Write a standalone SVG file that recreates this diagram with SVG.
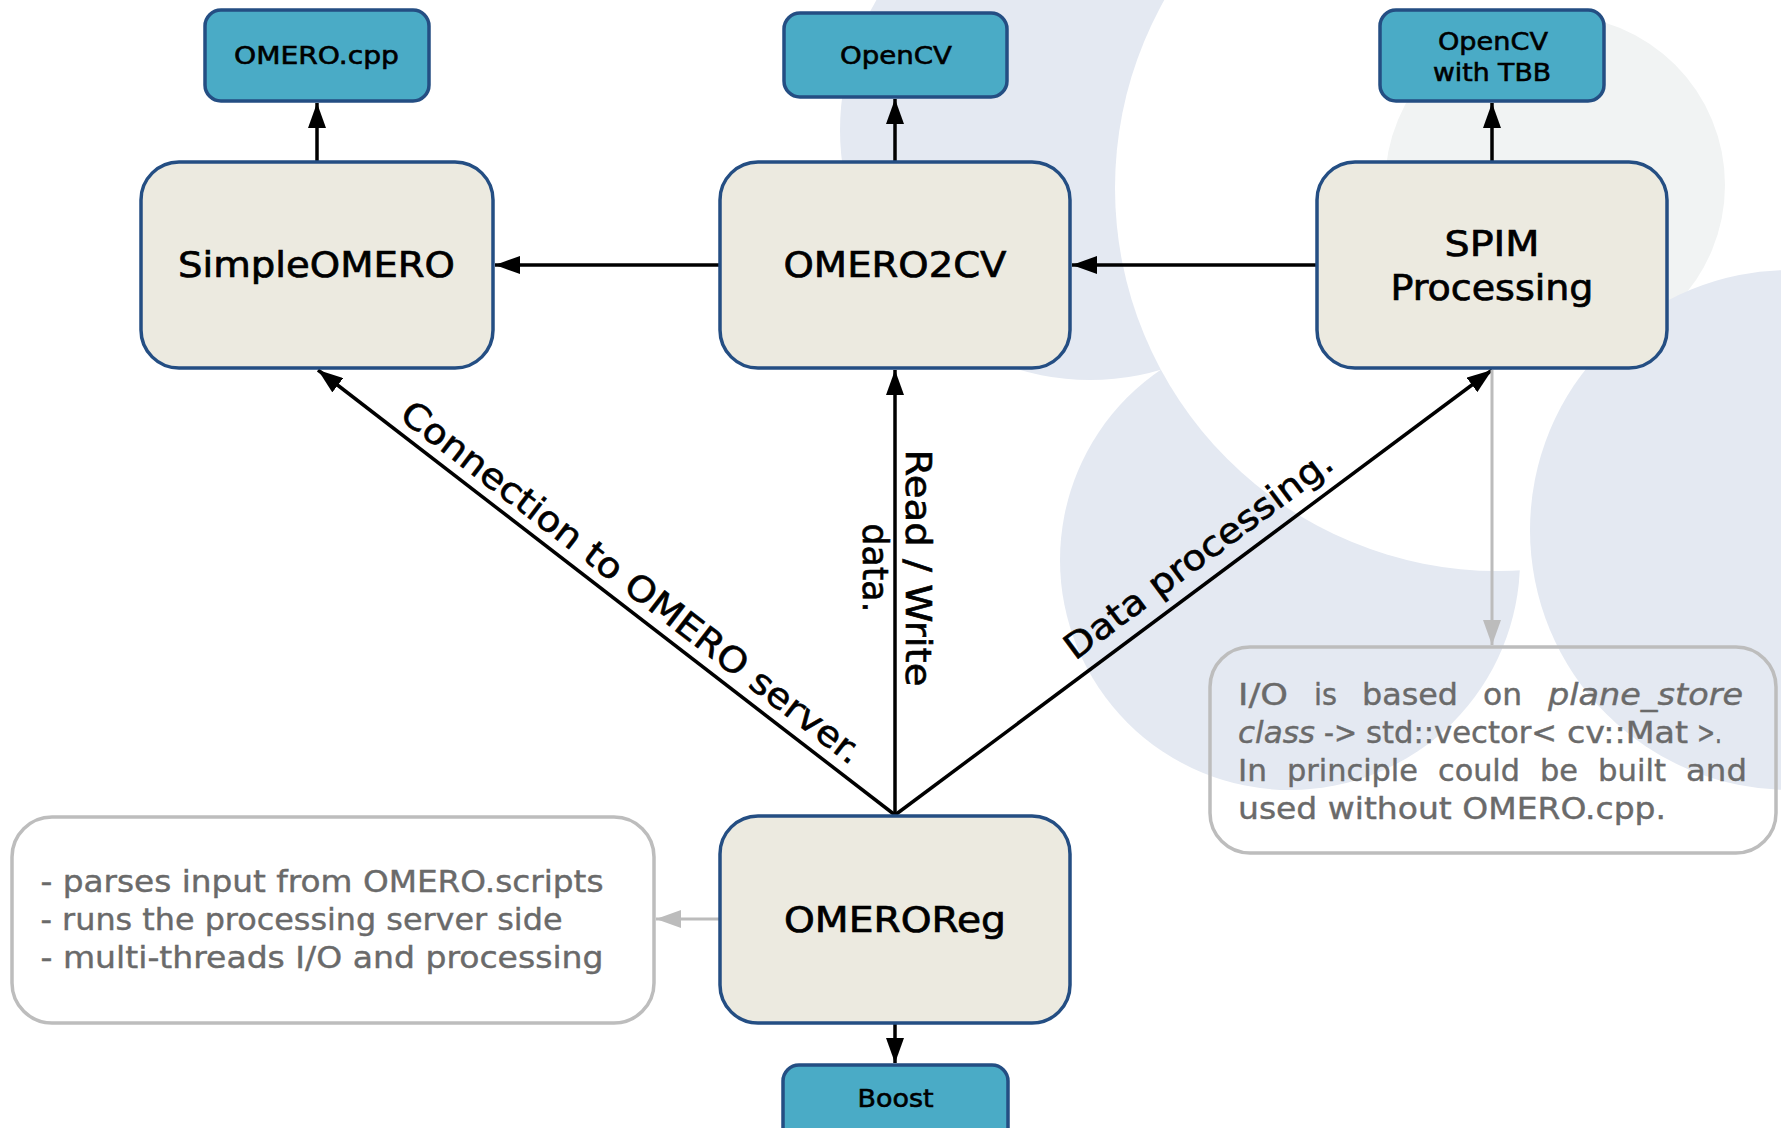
<svg xmlns="http://www.w3.org/2000/svg" width="1781" height="1128" viewBox="0 0 1781 1128">
  <style>
    .node rect { fill: #eceae0; stroke: #244e83; stroke-width: 3.5; }
    .lib rect { fill: #4aabc6; stroke: #244e83; stroke-width: 3.5; }
    .note rect { fill: none; stroke: #bdbdbd; stroke-width: 3.5; }
    text { font-family: "DejaVu Sans", "Liberation Sans", sans-serif; }
    .big { font-size: 35px; fill: #000; stroke: #000; stroke-width: 0.7px; text-anchor: middle; }
    .small { font-size: 25px; fill: #000; stroke: #000; stroke-width: 0.6px; text-anchor: middle; }
    .lbl { font-size: 35px; fill: #000; stroke: #000; stroke-width: 0.6px; }
    .notetxt { font-size: 30px; fill: #6a6a6a; stroke: #6a6a6a; stroke-width: 0.4px; }
    .it { font-style: italic; }
    .edge { stroke: #000; stroke-width: 3.5; fill: none; marker-end: url(#ah); }
    .gedge { stroke: #bcbcbc; stroke-width: 3; fill: none; marker-end: url(#ahg); }
    .bgb { fill: #e4e9f2; }
    .bgg { fill: #f1f3f3; }
  </style>
  <defs>
    <marker id="ah" viewBox="0 0 25 18" refX="25" refY="9" markerWidth="25" markerHeight="18" markerUnits="userSpaceOnUse" orient="auto">
      <path d="M0,0 L25,9 L0,18 z" fill="#000"/>
    </marker>
    <marker id="ahg" viewBox="0 0 25 18" refX="25" refY="9" markerWidth="25" markerHeight="18" markerUnits="userSpaceOnUse" orient="auto">
      <path d="M0,0 L25,9 L0,18 z" fill="#bcbcbc"/>
    </marker>
  </defs>
  <rect x="0" y="0" width="1781" height="1128" fill="#ffffff"/>
  <g id="background">
    <circle class="bgb" cx="1090" cy="130" r="250"/>
    <circle class="bgb" cx="1290" cy="560" r="230"/>
    <circle fill="#ffffff" cx="1498" cy="188" r="383"/>
    <circle class="bgg" cx="1555" cy="185" r="170"/>
    <circle class="bgb" cx="1790" cy="530" r="260"/>
  </g>
  <g id="connectors">
    <path class="edge" d="M317,162 L317,103"/>
    <path class="edge" d="M895,162 L895,99"/>
    <path class="edge" d="M1492,162 L1492,103"/>
    <path class="edge" d="M720,265 L495,265"/>
    <path class="edge" d="M1317,265 L1072,265"/>
    <path class="edge" d="M895,815 L318,370"/>
    <path class="edge" d="M895,815 L895,370"/>
    <path class="edge" d="M895,815 L1492,370"/>
    <path class="edge" d="M895,1023 L895,1063"/>
    <path class="gedge" d="M1492,370 L1492,645"/>
    <path class="gedge" d="M720,919 L656,919"/>
    <text class="lbl" transform="translate(398,418) rotate(37.52)" textLength="571" lengthAdjust="spacingAndGlyphs">Connection to OMERO server.</text>
    <text class="lbl" transform="translate(906,568) rotate(90)" text-anchor="middle"><tspan x="0" y="0" textLength="237" lengthAdjust="spacingAndGlyphs">Read / Write</tspan><tspan x="0" y="43" textLength="89" lengthAdjust="spacingAndGlyphs">data.</tspan></text>
    <text class="lbl" transform="translate(1075,661) rotate(-36.64)" textLength="325" lengthAdjust="spacingAndGlyphs">Data processing.</text>
  </g>
  <g id="node-omerocpp" class="lib">
    <rect x="205" y="10" width="224" height="91" rx="16"/>
    <text class="small" x="316.5" y="64" textLength="165" lengthAdjust="spacingAndGlyphs">OMERO.cpp</text>
  </g>
  <g id="node-opencv" class="lib">
    <rect x="784" y="13" width="223" height="84" rx="16"/>
    <text class="small" x="896" y="64" textLength="112" lengthAdjust="spacingAndGlyphs">OpenCV</text>
  </g>
  <g id="node-opencv-tbb" class="lib">
    <rect x="1380" y="10" width="224" height="91" rx="16"/>
    <text class="small" x="1493" y="49.5" textLength="110" lengthAdjust="spacingAndGlyphs">OpenCV</text>
    <text class="small" x="1492" y="80.5" textLength="118" lengthAdjust="spacingAndGlyphs">with TBB</text>
  </g>
  <g id="node-boost" class="lib">
    <rect x="783" y="1065" width="225" height="84" rx="16"/>
    <text class="small" x="895.5" y="1106.5" textLength="76" lengthAdjust="spacingAndGlyphs">Boost</text>
  </g>
  <g id="node-simpleomero" class="node">
    <rect x="141" y="162" width="352" height="206" rx="38"/>
    <text class="big" x="316.5" y="277" textLength="277" lengthAdjust="spacingAndGlyphs">SimpleOMERO</text>
  </g>
  <g id="node-omero2cv" class="node">
    <rect x="720" y="162" width="350" height="206" rx="38"/>
    <text class="big" x="895" y="277" textLength="223" lengthAdjust="spacingAndGlyphs">OMERO2CV</text>
  </g>
  <g id="node-spim" class="node">
    <rect x="1317" y="162" width="350" height="206" rx="38"/>
    <text class="big" x="1492" y="256" textLength="95" lengthAdjust="spacingAndGlyphs">SPIM</text>
    <text class="big" x="1492" y="299.5" textLength="203" lengthAdjust="spacingAndGlyphs">Processing</text>
  </g>
  <g id="node-omeroreg" class="node">
    <rect x="720" y="816" width="350" height="207" rx="38"/>
    <text class="big" x="895" y="932" textLength="222" lengthAdjust="spacingAndGlyphs">OMEROReg</text>
  </g>
  <g id="note-omeroreg" class="note">
    <rect x="12" y="817" width="642" height="206" rx="40"/>
    <text class="notetxt" x="40.5" y="892" textLength="563" lengthAdjust="spacingAndGlyphs">- parses input from OMERO.scripts</text>
    <text class="notetxt" x="40.5" y="930" textLength="522" lengthAdjust="spacingAndGlyphs">- runs the processing server side</text>
    <text class="notetxt" x="40.5" y="968" textLength="563" lengthAdjust="spacingAndGlyphs">- multi-threads I/O and processing</text>
  </g>
  <g id="note-spim" class="note">
    <rect x="1210" y="647" width="566" height="206" rx="40"/>
    <text class="notetxt" y="705"><tspan x="1238" textLength="50" lengthAdjust="spacingAndGlyphs">I/O</tspan><tspan x="1314" textLength="23" lengthAdjust="spacingAndGlyphs">is</tspan><tspan x="1362" textLength="96" lengthAdjust="spacingAndGlyphs">based</tspan><tspan x="1483" textLength="39" lengthAdjust="spacingAndGlyphs">on</tspan><tspan class="it" x="1548" textLength="195" lengthAdjust="spacingAndGlyphs">plane_store</tspan></text>
    <text class="notetxt" y="743"><tspan class="it" x="1238" textLength="77" lengthAdjust="spacingAndGlyphs">class</tspan><tspan x="1324" textLength="33" lengthAdjust="spacingAndGlyphs">-&gt;</tspan><tspan x="1366" textLength="191" lengthAdjust="spacingAndGlyphs">std::vector&lt;</tspan><tspan x="1567" textLength="121" lengthAdjust="spacingAndGlyphs">cv::Mat</tspan><tspan x="1697" textLength="25" lengthAdjust="spacingAndGlyphs">&gt;.</tspan></text>
    <text class="notetxt" y="781"><tspan x="1238" textLength="29" lengthAdjust="spacingAndGlyphs">In</tspan><tspan x="1287" textLength="131" lengthAdjust="spacingAndGlyphs">principle</tspan><tspan x="1438" textLength="82" lengthAdjust="spacingAndGlyphs">could</tspan><tspan x="1540" textLength="38" lengthAdjust="spacingAndGlyphs">be</tspan><tspan x="1598" textLength="68" lengthAdjust="spacingAndGlyphs">built</tspan><tspan x="1686" textLength="61" lengthAdjust="spacingAndGlyphs">and</tspan></text>
    <text class="notetxt" x="1238" y="819" textLength="428" lengthAdjust="spacingAndGlyphs">used without OMERO.cpp.</text>
  </g>
</svg>
